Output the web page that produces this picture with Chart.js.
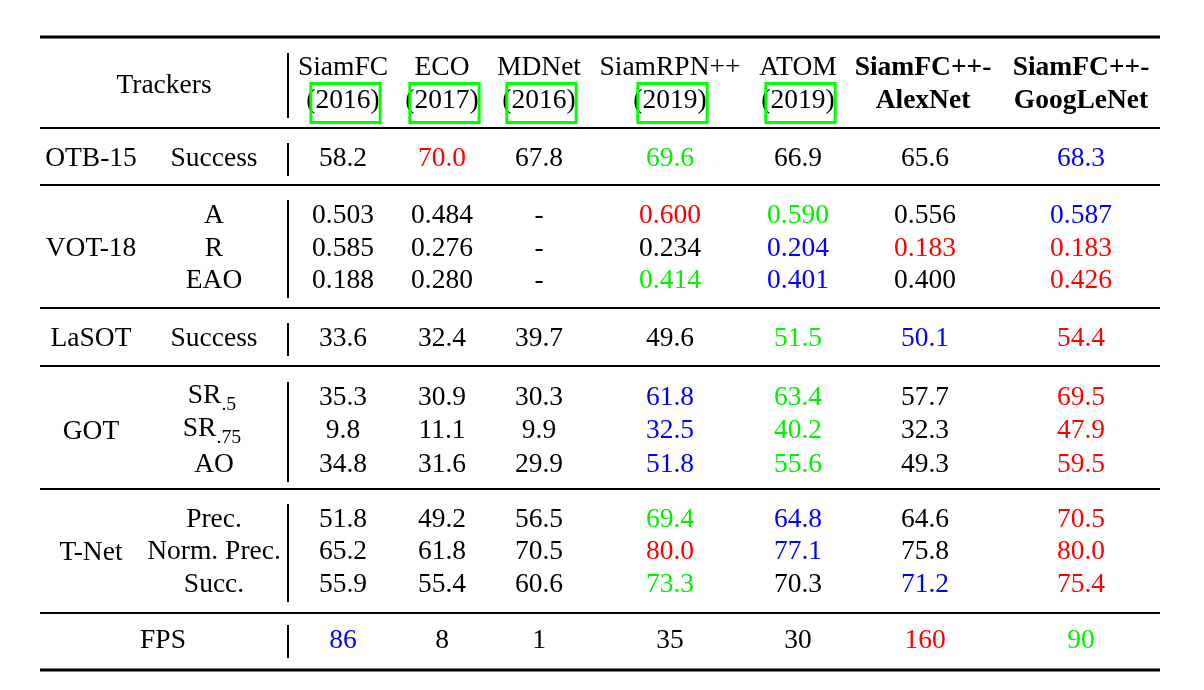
<!DOCTYPE html>
<html>
<head>
<meta charset="utf-8">
<script src="https://cdn.jsdelivr.net/npm/chart.js@4.4.1/dist/chart.umd.min.js"></script>
<style>
  html, body { margin: 0; padding: 0; background: #fff; }
  canvas { display: block; }
</style>
</head>
<body>
<canvas id="trackerTable" width="1204" height="690"></canvas>
<script>
// Tên tracker (2 dòng tiêu đề)
const trackerNames = ["SiamFC", "ECO", "MDNet", "SiamRPN++", "ATOM", "SiamFC++-", "SiamFC++-"];
const trackerSubs = ["(2016)", "(2017)", "(2016)", "(2019)", "(2019)", "AlexNet", "GoogLeNet"];
const trackerBold = [false, false, false, false, false, true, true];

// Bộ dữ liệu và chỉ số (mỗi hàng)
const benchmarks = ["OTB-15", "VOT-18", "LaSOT", "GOT", "T-Net", "FPS"];
const rowBenchmark = [0, 1, 1, 1, 2, 3, 3, 3, 4, 4, 4, 5];
const rowMetrics = ["Success", "A", "R", "EAO", "Success", "SR|.5", "SR|.75", "AO", "Prec.", "Norm. Prec.", "Succ.", ""];
const rowDecimals = [1, 3, 3, 3, 1, 1, 1, 1, 1, 1, 1, 0];

// Giá trị từng tracker (null = "-")
const siamfcVals    = [58.2, 0.503, 0.585, 0.188, 33.6, 35.3, 9.8, 34.8, 51.8, 65.2, 55.9, 86];
const ecoVals       = [70.0, 0.484, 0.276, 0.280, 32.4, 30.9, 11.1, 31.6, 49.2, 61.8, 55.4, 8];
const mdnetVals     = [67.8, null, null, null, 39.7, 30.3, 9.9, 29.9, 56.5, 70.5, 60.6, 1];
const siamrpnVals   = [69.6, 0.600, 0.234, 0.414, 49.6, 61.8, 32.5, 51.8, 69.4, 80.0, 73.3, 35];
const atomVals      = [66.9, 0.590, 0.204, 0.401, 51.5, 63.4, 40.2, 55.6, 64.8, 77.1, 70.3, 30];
const alexnetVals   = [65.6, 0.556, 0.183, 0.400, 50.1, 57.7, 32.3, 49.3, 64.6, 75.8, 71.2, 160];
const googlenetVals = [68.3, 0.587, 0.183, 0.426, 54.4, 69.5, 47.9, 59.5, 70.5, 80.0, 75.4, 90];

// Hạng (1 = đỏ, 2 = xanh lá, 3 = xanh dương, 0 = đen)
const siamfcRank    = [0, 0, 0, 0, 0, 0, 0, 0, 0, 0, 0, 3];
const ecoRank       = [1, 0, 0, 0, 0, 0, 0, 0, 0, 0, 0, 0];
const mdnetRank     = [0, 0, 0, 0, 0, 0, 0, 0, 0, 0, 0, 0];
const siamrpnRank   = [2, 1, 0, 2, 0, 3, 3, 3, 2, 1, 2, 0];
const atomRank      = [0, 2, 3, 3, 2, 2, 2, 2, 3, 3, 0, 0];
const alexnetRank   = [0, 0, 1, 0, 3, 0, 0, 0, 0, 0, 3, 1];
const googlenetRank = [3, 3, 1, 1, 1, 1, 1, 1, 1, 1, 1, 2];

const allVals = [siamfcVals, ecoVals, mdnetVals, siamrpnVals, atomVals, alexnetVals, googlenetVals];
const allRanks = [siamfcRank, ecoRank, mdnetRank, siamrpnRank, atomRank, alexnetRank, googlenetRank];
const rankColors = ["#000000", "#ff0000", "#00f000", "#0000ff"];

// Bố cục (vị trí theo đơn vị của trục)
const colX = [343, 442, 539, 670, 798, 925, 1081];
const rowY = [166, 223, 256, 288, 346, 405, 438, 472, 527, 559, 592, 648];
const ruleY = [37, 128, 185, 308, 366, 489, 613, 670];
const FONT = "Liberation Serif";
const FS = 27.5;

// Mỗi tracker là một dataset scatter, điểm ẩn, chữ được vẽ tại vị trí điểm
const datasets = allVals.map((vals, c) => ({
    label: trackerNames[c] + " " + trackerSubs[c],
    data: vals.map((v, r) => ({ x: colX[c], y: rowY[r] })),
    pointRadius: 0,
    showLine: false
}));

function fmt(v, d) {
    return v === null ? "-" : v.toFixed(d);
}

const tablePlugin = {
    id: "tablePlugin",
    afterDatasetsDraw(chart) {
        const ctx = chart.ctx;
        const xs = chart.scales.x, ys = chart.scales.y;
        const X = v => xs.getPixelForValue(v);
        const Y = v => ys.getPixelForValue(v);
        ctx.save();

        // Đường kẻ ngang
        ctx.strokeStyle = "#000";
        ruleY.forEach((y, i) => {
            ctx.lineWidth = (i === 0 || i === ruleY.length - 1) ? 3.2 : 1.8;
            ctx.beginPath();
            ctx.moveTo(X(40), Y(y));
            ctx.lineTo(X(1160), Y(y));
            ctx.stroke();
        });

        // Đường kẻ dọc ngắn cho từng nhóm
        ctx.lineWidth = 2;
        const sepX = X(288);
        const segs = [[53, 118]];
        benchmarks.forEach((b, g) => {
            const rows = rowY.filter((_, r) => rowBenchmark[r] === g);
            segs.push([rows[0] - 23, rows[rows.length - 1] + 10]);
        });
        segs.forEach(s => {
            ctx.beginPath();
            ctx.moveTo(sepX, Y(s[0]));
            ctx.lineTo(sepX, Y(s[1]));
            ctx.stroke();
        });

        ctx.textAlign = "center";
        ctx.textBaseline = "alphabetic";
        ctx.fillStyle = "#000";

        // Tiêu đề
        ctx.font = FS + "px '" + FONT + "'";
        ctx.fillText("Trackers", X(164), Y(93));
        trackerNames.forEach((name, c) => {
            ctx.fillStyle = "#000";
            ctx.font = (trackerBold[c] ? "bold " : "") + FS + "px '" + FONT + "'";
            const hx = c === 5 ? colX[c] - 2 : colX[c];
            ctx.fillText(name, X(hx), Y(75));
            ctx.fillText(trackerSubs[c], X(hx), Y(108));
            if (!trackerBold[c]) {
                // khung xanh quanh năm
                const w = ctx.measureText(trackerSubs[c]).width;
                const left = X(colX[c]) - w / 2;
                const right = X(colX[c]) + w / 2;
                ctx.strokeStyle = "#00ff00";
                ctx.lineWidth = 3;
                ctx.strokeRect(left + 4.5, Y(83.5), right - left - 4, Y(122.5) - Y(83.5));
            }
        });

        // Cột trái: bộ dữ liệu và chỉ số
        ctx.fillStyle = "#000";
        ctx.font = FS + "px '" + FONT + "'";
        benchmarks.forEach((b, g) => {
            const rows = rowY.filter((_, r) => rowBenchmark[r] === g);
            const mid = (rows[0] + rows[rows.length - 1]) / 2;
            const bx = b === "FPS" ? 163 : 91;
            ctx.fillText(b, X(bx), Y(mid));
        });
        rowMetrics.forEach((m, r) => {
            if (!m) return;
            if (m.indexOf("|") >= 0) {
                const parts = m.split("|");
                ctx.font = FS + "px '" + FONT + "'";
                const w1 = ctx.measureText(parts[0]).width;
                ctx.font = (FS * 0.72) + "px '" + FONT + "'";
                const w2 = ctx.measureText(parts[1]).width;
                const start = X(212) - (w1 + w2) / 2;
                ctx.textAlign = "left";
                ctx.font = FS + "px '" + FONT + "'";
                ctx.fillText(parts[0], start, Y(rowY[r] - 2));
                ctx.font = (FS * 0.72) + "px '" + FONT + "'";
                ctx.fillText(parts[1], start + w1, Y(rowY[r] + 5));
                ctx.textAlign = "center";
            } else {
                ctx.font = FS + "px '" + FONT + "'";
                ctx.fillText(m, X(214), Y(rowY[r]));
            }
        });

        // Giá trị các ô, vẽ tại vị trí điểm của dataset
        ctx.font = FS + "px '" + FONT + "'";
        chart.data.datasets.forEach((ds, c) => {
            const meta = chart.getDatasetMeta(c);
            meta.data.forEach((pt, r) => {
                ctx.fillStyle = rankColors[allRanks[c][r]];
                ctx.fillText(fmt(allVals[c][r], rowDecimals[r]), pt.x, pt.y);
            });
        });

        ctx.restore();
    }
};

new Chart(document.getElementById("trackerTable").getContext("2d"), {
    type: "scatter",
    data: { datasets: datasets },
    options: {
        responsive: false,
        animation: false,
        layout: { padding: 0 },
        plugins: { legend: { display: false }, tooltip: { enabled: false } },
        scales: {
            x: { type: "linear", display: false, min: 0, max: 1204 },
            y: { type: "linear", display: false, min: 0, max: 690, reverse: true }
        }
    },
    plugins: [tablePlugin]
});
</script>
</body>
</html>
